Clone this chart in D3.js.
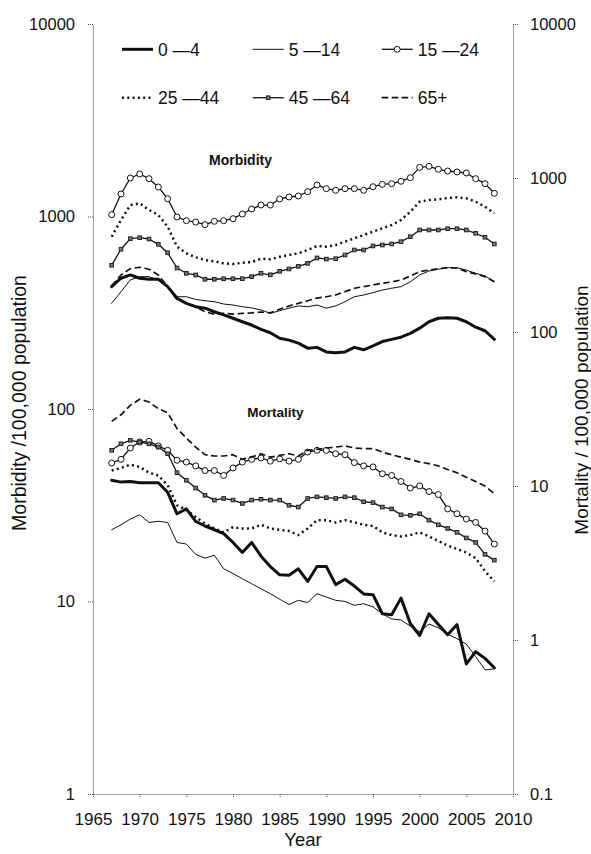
<!DOCTYPE html>
<html><head><meta charset="utf-8">
<script src="https://cdn.jsdelivr.net/npm/d3@7"></script>
<style>
body{margin:0;background:#fff}
svg{display:block;background:#fff}
text{font-family:"Liberation Sans",Arial,Helvetica,sans-serif;fill:#111}
</style>
</head><body>
<svg id="chart" width="591" height="854"></svg>
<script>
// ---------- data ----------
const years = [1967,1968,1969,1970,1971,1972,1973,1974,1975,1976,1977,1978,1979,1980,1981,1982,1983,1984,1985,1986,1987,1988,1989,1990,1991,1992,1993,1994,1995,1996,1997,1998,1999,2000,2001,2002,2003,2004,2005,2006,2007,2008];
const groups = ["0 \u20144","5 \u201414","15 \u201424","25 \u201444","45 \u201464","65+"];

// Morbidity per 100,000 (left axis)
const morb0_4   = [432,478,497,478,472,472,432,376,354,340,334,320,308,296,284,273,259,249,233,228,220,207,209,198,196,198,209,203,213,224,230,236,247,263,284,296,298,296,284,266,255,230];
const morb5_14  = [354,407,468,487,487,468,432,383,383,371,365,361,351,347,340,335,327,314,324,334,343,340,347,334,343,361,383,391,402,415,424,432,458,497,521,532,542,542,527,507,491,458];
const morb15_24 = [1022,1309,1585,1663,1572,1423,1237,994,951,936,907,944,951,974,1030,1094,1147,1147,1233,1263,1278,1345,1458,1395,1368,1395,1395,1368,1428,1470,1481,1524,1591,1801,1823,1759,1723,1703,1683,1572,1481,1320];
const morb25_44 = [785,959,1147,1171,1081,1018,885,697,644,614,594,585,571,567,575,580,604,599,618,631,644,670,703,697,711,740,770,801,834,868,903,959,1059,1194,1218,1228,1248,1258,1243,1194,1124,1039];
const morb45_64 = [558,676,767,776,764,717,648,540,507,497,472,472,475,475,475,487,507,498,519,534,551,571,609,601,604,631,670,670,703,711,720,740,785,851,851,851,864,864,851,818,780,720];
const morb65    = [436,497,536,545,532,497,432,371,354,340,320,311,314,311,314,316,319,316,330,343,354,365,377,383,391,407,424,432,441,450,457,468,491,517,527,536,542,540,517,503,487,458];

// Mortality per 100,000 (right axis)
const mort0_4   = [10.9,10.6,10.7,10.5,10.5,10.5,9.1,6.6,7.1,5.9,5.5,5.2,4.9,4.3,3.7,4.3,3.5,3.0,2.65,2.63,2.9,2.4,3.0,3.0,2.29,2.48,2.24,1.99,1.97,1.48,1.46,1.87,1.28,1.07,1.48,1.26,1.08,1.26,0.70,0.84,0.76,0.66];
const mort5_14  = [5.2,5.6,6.1,6.5,5.8,5.9,5.8,4.3,4.2,3.6,3.4,3.55,2.9,2.7,2.5,2.32,2.15,2.0,1.84,1.70,1.81,1.75,2.0,1.90,1.81,1.78,1.68,1.72,1.64,1.48,1.37,1.35,1.23,1.13,1.27,1.20,1.09,1.02,0.94,0.78,0.64,0.65];
const mort15_24 = [14.1,14.9,17.65,19.3,19.5,18.2,17.05,14.7,14.3,13.5,12.6,12.6,11.7,13.1,14.3,14.9,15.2,14.5,15.0,14.5,14.9,16.6,17.05,17.05,16.2,15.97,14.2,13.5,13.3,12.0,11.7,10.7,9.7,10.0,9.2,8.8,7.1,6.6,6.1,5.8,5.1,4.2];
const mort25_44 = [12.6,13.1,13.75,13.3,12.2,11.7,10.1,7.5,7.0,6.3,5.7,5.3,5.0,5.4,5.3,5.3,5.6,5.3,5.2,5.1,4.8,5.3,6.0,6.0,5.8,6.0,5.8,5.6,5.5,5.0,4.8,4.7,4.8,5.0,4.7,4.4,4.1,3.9,3.7,3.4,2.8,2.4];
const mort45_64 = [17.05,18.8,19.8,19.3,18.8,17.9,16.2,12.2,10.9,9.7,8.7,8.1,8.3,8.1,7.7,8.1,8.2,8.1,8.1,7.5,7.3,8.3,8.5,8.4,8.3,8.5,8.4,7.9,7.8,7.3,7.1,6.5,6.45,6.6,6.0,5.6,5.3,5.0,4.6,4.3,3.6,3.3];
const mort65    = [26.3,29.0,33.4,36.6,35.1,31.8,29.9,23.6,20.5,17.9,15.97,15.66,15.66,15.97,14.9,15.4,16.2,15.4,15.8,16.2,15.66,17.05,17.3,17.65,17.9,18.2,17.65,17.5,17.5,16.6,15.97,15.4,14.9,14.3,13.96,13.5,12.8,12.2,11.4,10.7,10.0,8.9];

const xTicks = [1965,1970,1975,1980,1985,1990,1995,2000,2005,2010];
const leftTicks = [1,10,100,1000,10000];
const leftTickLabels = ["1","10","100","1000","10000"];
const rightTicks = [0.1,1,10,100,1000,10000];
const rightTickLabels = ["0.1","1","10","100","1000","10000"];

// ---------- styles ----------
const styles = [
  {w:3.0, dash:null, marker:null},
  {w:1.0, dash:null, marker:null},
  {w:1.3, dash:null, marker:"circle"},
  {w:2.5, dash:"2,3.3", marker:null},
  {w:1.3, dash:null, marker:"square"},
  {w:1.7, dash:"6.5,3.5", marker:null}
];
const morbSeries = [morb0_4,morb5_14,morb15_24,morb25_44,morb45_64,morb65];
const mortSeries = [mort0_4,mort5_14,mort15_24,mort25_44,mort45_64,mort65];

// ---------- scales ----------
const L = 93, R = 513, T = 24, B = 794;
const x = d3.scaleLinear().domain([1965,2010]).range([L,R]);
const yL = d3.scaleLog().domain([1,10000]).range([B,T]);
const yR = d3.scaleLog().domain([0.1,10000]).range([B,T]);

const svg = d3.select("#chart");
const ink = "#111";

// ---------- axes ----------
function styleAxis(g, fs){
  g.attr("font-family",null).attr("font-size",null);
  g.select(".domain").attr("stroke","#444").attr("stroke-width",1).attr("stroke-dasharray","1,1");
  g.selectAll(".tick line").attr("stroke","#444").attr("stroke-dasharray","1,1");
  g.selectAll(".tick text").style("font-size",fs+"px").attr("fill",ink);
}
const gL = svg.append("g").attr("transform",`translate(${L},0)`)
  .call(d3.axisLeft(yL).tickValues(leftTicks).tickFormat((d,i)=>leftTickLabels[i]).tickSize(5).tickSizeOuter(0).tickPadding(13));
styleAxis(gL,16.5);
const gR = svg.append("g").attr("transform",`translate(${R},0)`)
  .call(d3.axisRight(yR).tickValues(rightTicks).tickFormat((d,i)=>rightTickLabels[i]).tickSize(5).tickSizeOuter(0).tickPadding(12));
styleAxis(gR,16.5);
const gB = svg.append("g").attr("transform",`translate(0,${B})`)
  .call(d3.axisBottom(x).tickValues(xTicks).tickFormat(d3.format("d")).tickSize(4).tickSizeOuter(0).tickPadding(15));
styleAxis(gB,17);

// axis titles
svg.append("text").attr("transform","translate(26,403) rotate(-90)").attr("text-anchor","middle")
  .style("font-size","19.5px").text("Morbidity /100,000 population");
svg.append("text").attr("transform","translate(588,410) rotate(-90)").attr("text-anchor","middle")
  .style("font-size","19px").text("Mortality / 100,000 population");
svg.append("text").attr("x",303).attr("y",846).attr("text-anchor","middle")
  .style("font-size","18.5px").text("Year");

// section labels
svg.append("text").attr("x",240.5).attr("y",165).attr("text-anchor","middle")
  .style("font-size","14px").style("font-weight","bold").text("Morbidity");
svg.append("text").attr("x",275.5).attr("y",417).attr("text-anchor","middle")
  .style("font-size","13.5px").style("font-weight","bold").text("Mortality");

// ---------- series ----------
function drawSeries(values, yScale, st){
  const pts = years.map((yr,i)=>[x(yr), yScale(values[i])]);
  const line = d3.line().curve(d3.curveLinear);
  svg.append("path").attr("d",line(pts)).attr("fill","none").attr("stroke",ink)
    .attr("stroke-width",st.w).attr("stroke-dasharray",st.dash)
    .attr("stroke-linejoin","round").attr("stroke-linecap", st.dash ? "butt" : "round");
  drawMarkers(pts, st);
}
function drawMarkers(pts, st){
  if(st.marker==="circle"){
    svg.append("g").selectAll("circle").data(pts).join("circle")
      .attr("cx",d=>d[0]).attr("cy",d=>d[1]).attr("r",3)
      .attr("fill","#fff").attr("stroke",ink).attr("stroke-width",1);
  } else if(st.marker==="square"){
    const s = 3.6;
    svg.append("g").selectAll("rect").data(pts).join("rect")
      .attr("x",d=>d[0]-s/2).attr("y",d=>d[1]-s/2).attr("width",s).attr("height",s)
      .attr("fill","#777").attr("stroke","#222").attr("stroke-width",1);
  }
}
morbSeries.forEach((v,i)=>drawSeries(v, yL, styles[i]));
mortSeries.forEach((v,i)=>drawSeries(v, yR, styles[i]));

// ---------- legend ----------
const legCols = [122, 252.7, 381.7];
const legRows = [49.3, 97.7];
groups.forEach((g,i)=>{
  const st = styles[i];
  const x0 = legCols[i%3], y0 = legRows[Math.floor(i/3)];
  const len = 31;
  svg.append("line").attr("x1",x0).attr("x2",x0+len).attr("y1",y0).attr("y2",y0)
    .attr("stroke",ink).attr("stroke-width",st.w).attr("stroke-dasharray",st.dash);
  drawMarkers([[x0+len/2,y0]], st);
  svg.append("text").attr("x",x0+36).attr("y",y0+6.5).style("font-size","17.5px").text(g);
});
</script>
</body></html>
